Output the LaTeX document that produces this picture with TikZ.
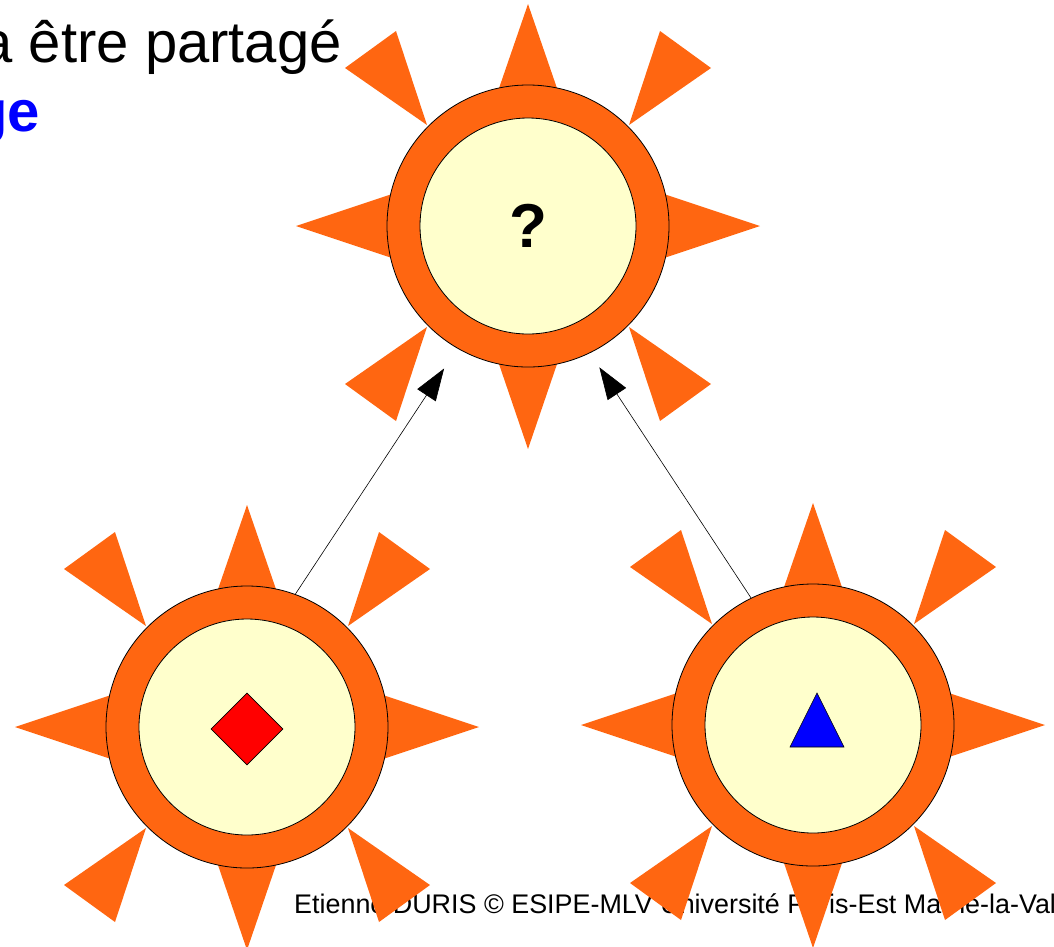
\documentclass[tikz,border=0pt]{standalone}
\usepackage{fontspec}
\setmainfont{Liberation Sans}
\usetikzlibrary{shapes.geometric,arrows.meta}

\definecolor{soleil}{HTML}{FF6611}
\definecolor{coeur}{HTML}{FFFFCC}

\tikzset{
  disque/.style={circle,draw=black,line width=0.8pt,fill=soleil,minimum size=282pt,inner sep=0pt},
  noyau/.style={circle,draw=black,line width=0.8pt,fill=coeur,minimum size=216pt,inner sep=0pt},
  fleche/.style={-{Triangle[length=32pt,width=22pt]},line width=0.6pt},
  rayons/.pic={
    % rayons droits
    \fill[soleil] (0,-222) -- (42,-100) -- (-42,-100) -- cycle;
    \fill[soleil] (0,223) -- (42,100) -- (-42,100) -- cycle;
    \fill[soleil] (-232,0) -- (-100,44) -- (-100,-44) -- cycle;
    \fill[soleil] (232,0) -- (100,44) -- (100,-44) -- cycle;
    % rayons en biais
    \foreach \sx/\sy in {1/1,1/-1,-1/1,-1/-1}
      \fill[soleil] (\sx*132,\sy*195) -- (\sx*183,\sy*158) -- (\sx*101,\sy*101) -- cycle;
  }
}

\begin{document}
\begin{tikzpicture}[x=1pt,y=-1pt]
\useasboundingbox (0,0) rectangle (1054,946);
\clip (0,0) rectangle (1054,946);

\begin{scope}[every node/.style={inner sep=0pt}]
    \node[anchor=base east,font=\fontsize{58}{64}\selectfont] (ligne1) at (342,62) {a être partagé};
    \node[anchor=base east,font=\fontsize{58}{64}\selectfont\bfseries,text=blue] (ligne2) at (40,131) {ge};
    \node[anchor=base west,font=\fontsize{26.9}{32}\selectfont] (pied) at (294,913) {Etienne DURIS © ESIPE-MLV Université Paris-Est Marne-la-Vallée};
\end{scope}

% soleil du haut
\pic at (528,226) {rayons};
\node[disque] (central) at (528,226) {};
\node[noyau,font=\fontsize{62}{62}\selectfont\bfseries] (question) at (528,226) {?};

% soleil de gauche
\pic at (247,727) {rayons};
\node[disque] (gauche) at (247,727) {};
\node[noyau] (gauchec) at (247,727) {};
\node[diamond,draw,line width=0.6pt,fill=red,minimum size=72pt,inner sep=0pt] (carreau) at (247,729) {};

% soleil de droite
\pic at (813,725) {rayons};
\node[disque] (droite) at (813,725) {};
\node[noyau] (droitec) at (813,725) {};
\draw[line width=0.6pt,fill=blue] (790,747) -- (817,693) -- (844,747) -- cycle;

\draw[fleche,shorten >=24pt] (gauche.70) -- (central.240);
\draw[fleche,shorten >=17pt] (droite.116) -- (central.296);
\end{tikzpicture}
\end{document}
